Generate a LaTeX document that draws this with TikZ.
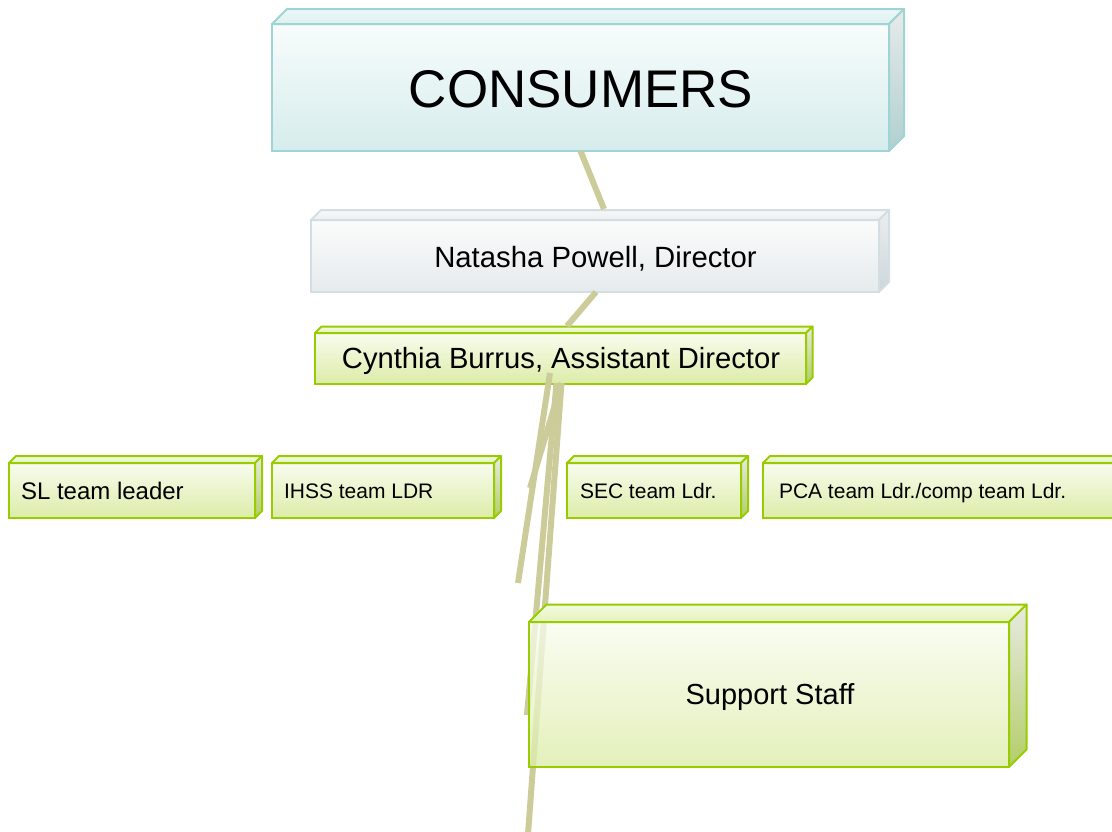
\documentclass[tikz,border=0pt]{standalone}
\usepackage{fontspec}
\setmainfont{Liberation Sans}
\usetikzlibrary{calc}

% teal family (top box)
\definecolor{tealF1}{RGB}{248,252,252}
\definecolor{tealF2}{RGB}{214,236,236}
\definecolor{tealT1}{RGB}{238,247,247}
\definecolor{tealT2}{RGB}{222,240,240}
\definecolor{tealS1}{RGB}{232,234,234}
\definecolor{tealS2}{RGB}{176,208,208}
\definecolor{tealB}{RGB}{158,212,212}
% grey family
\definecolor{greyF1}{RGB}{251,252,252}
\definecolor{greyF2}{RGB}{229,234,236}
\definecolor{greyT1}{RGB}{246,248,248}
\definecolor{greyT2}{RGB}{236,240,242}
\definecolor{greyS1}{RGB}{236,238,239}
\definecolor{greyS2}{RGB}{204,214,218}
\definecolor{greyB}{RGB}{212,222,226}
% green family
\definecolor{greenF1}{RGB}{248,252,238}
\definecolor{greenF2}{RGB}{220,236,168}
\definecolor{greenT1}{RGB}{244,250,226}
\definecolor{greenT2}{RGB}{228,242,186}
\definecolor{greenS1}{RGB}{232,234,226}
\definecolor{greenS2}{RGB}{178,206,104}
\definecolor{greenB}{RGB}{153,204,0}
% connectors
\definecolor{connC}{RGB}{204,204,154}

\tikzset{
  face/.style={rectangle, inner sep=0pt, outer sep=0pt, draw=#1B,
    top color=#1F1, bottom color=#1F2, line width=2pt},
  conn/.style={draw=connC, line width=6pt},
  lbl/.style={inner sep=0pt, outer sep=0pt, text=black},
}

% top and right faces of a slab; #1 node, #2 depth, #3 colour family
\newcommand\slabfaces[3]{%
  \path[draw=#3B, line width=2pt, line join=round, top color=#3T1, bottom color=#3T2]
    (#1.north west) -- ++(#2,-#2) -- ($(#1.north east)+(#2,-#2)$) -- (#1.north east) -- cycle;
  \path[draw=#3B, line width=2pt, line join=round, top color=#3S1, bottom color=#3S2]
    (#1.north east) -- ++(#2,-#2) -- ($(#1.south east)+(#2,-#2)$) -- (#1.south east) -- cycle;
}

\begin{document}
\begin{tikzpicture}[x=1pt, y=-1pt]
\useasboundingbox (0,0) rectangle (1112,831);

% --- upper boxes ---
\node[face=teal, minimum width=617pt, minimum height=127pt] (cons) at (580.5,87.5) {};
\slabfaces{cons}{15}{teal}
\node[lbl, anchor=base, font=\fontsize{53}{60}\selectfont] (tcons) at (581,107.5) {CONSUMERS};

\node[face=grey, minimum width=568pt, minimum height=72pt] (nat) at (595,256) {};
\slabfaces{nat}{10}{grey}
\node[lbl, anchor=base, font=\fontsize{29.3}{34}\selectfont] (tnat) at (595.5,267) {Natasha Powell, Director};

\node[face=green, minimum width=491pt, minimum height=51pt] (cyn) at (560.5,358.5) {};
\slabfaces{cyn}{6.5}{green}
\node[lbl, anchor=base, font=\fontsize{29.2}{34}\selectfont] (tcyn) at (561,368.5) {Cynthia Burrus, Assistant Director};

% --- team leader row ---
\node[face=green, minimum width=246pt, minimum height=55pt] (sl) at (132,490.5) {};
\slabfaces{sl}{7}{green}
\node[lbl, anchor=base west, font=\fontsize{24}{28}\selectfont] (tsl) at (21,499.5) {SL team leader};

\node[face=green, minimum width=222pt, minimum height=55pt] (ihss) at (383,490.5) {};
\slabfaces{ihss}{7}{green}
\node[lbl, anchor=base west, font=\fontsize{21}{25}\selectfont] (tihss) at (284,498.5) {IHSS team LDR};

\node[face=green, minimum width=174pt, minimum height=55pt] (sec) at (654,490.5) {};
\slabfaces{sec}{7}{green}
\node[lbl, anchor=base west, font=\fontsize{21}{25}\selectfont] (tsec) at (580,498.5) {SEC team Ldr.};

\node[face=green, minimum width=362pt, minimum height=55pt] (pca) at (944,490.5) {};
\slabfaces{pca}{7}{green}
\node[lbl, anchor=base west, font=\fontsize{21}{25}\selectfont] (tpca) at (779,498.5) {PCA team Ldr./comp team Ldr.};

% --- connectors ---
\draw[conn] (cons.south) -- ($(nat.north)+(9,-11)$);
\draw[conn] ($(nat.south)+(1,0)$) -- ($(cyn.north)+(6.5,-7)$);

\coordinate (endA) at (518,583);
\coordinate (endB) at (530,488);
\coordinate (endC) at (527,715);
\coordinate (endD) at (528,834);
\draw[conn] ($(cyn.south)+(-10.5,-11)$) -- (endA);
\draw[conn] ($(cyn.south)+(1,-1)$) -- (endB);
\draw[conn] ($(cyn.south)+(-4,-1)$) -- (endC);
\draw[conn] ($(cyn.south)+(1,-1)$) -- (endD);

% --- support staff (translucent front so the connectors show through) ---
\node[face=green, fill opacity=0.78, minimum width=480pt, minimum height=145pt] (sup) at (769,694.5) {};
\slabfaces{sup}{17.5}{green}
\node[lbl, anchor=base, font=\fontsize{29}{34}\selectfont] (tsup) at (770,704) {Support Staff};
\end{tikzpicture}
\end{document}
